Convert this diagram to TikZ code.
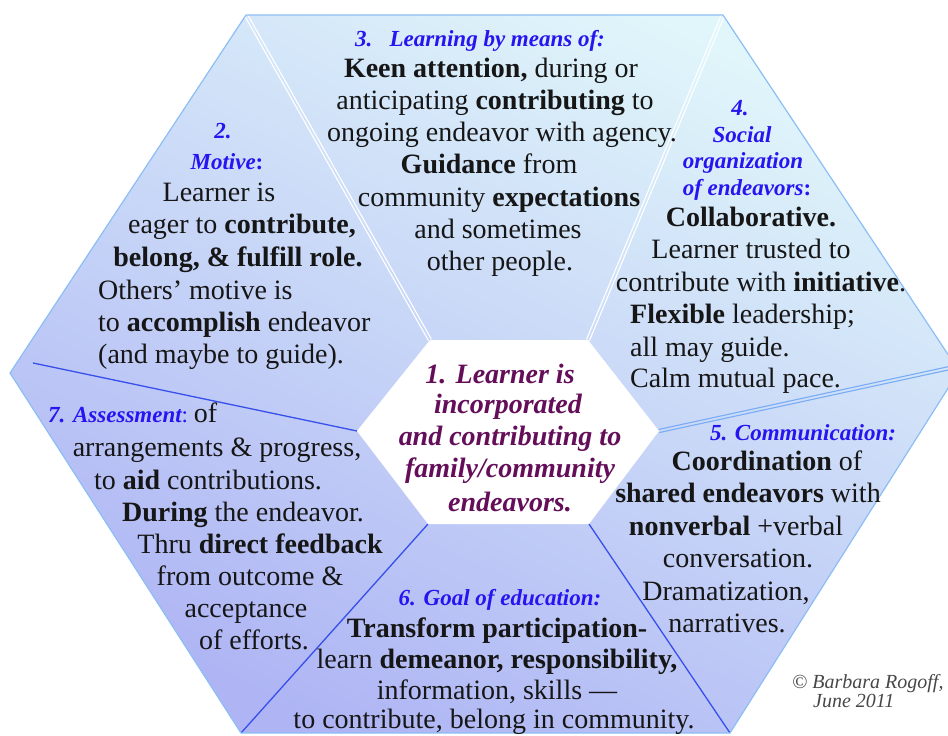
\documentclass[tikz,border=0pt]{standalone}
\usepackage{fontspec}
\setmainfont{Liberation Serif}
\usetikzlibrary{calc}

\definecolor{ink}{RGB}{22,22,22}
\definecolor{headblue}{RGB}{40,20,240}
\definecolor{hubpurple}{RGB}{100,14,90}
\definecolor{rimblue}{RGB}{140,190,245}
\definecolor{seamblue}{RGB}{120,172,245}
\definecolor{spokeblue}{RGB}{55,80,235}
\definecolor{topfill}{RGB}{224,246,250}
\definecolor{botfill}{RGB}{174,180,244}

\tikzset{
  body/.style={inner sep=0pt, anchor=base, font=\fontsize{28}{32}\selectfont, text=ink},
  lbody/.style={body, anchor=base west},
  head/.style={inner sep=0pt, anchor=base, font=\fontsize{23}{27}\selectfont\bfseries\itshape, text=headblue},
  lhead/.style={head, anchor=base west},
  hub/.style={inner sep=0pt, anchor=base, font=\fontsize{28}{32}\selectfont\bfseries\itshape, text=hubpurple},
  credit/.style={inner sep=0pt, anchor=base west, font=\fontsize{20}{22}\selectfont\itshape, text=black!72},
  rim/.style={draw=rimblue, line width=1.2pt, line join=round},
  spoke/.style={draw=spokeblue, line width=1.3pt},
}

\begin{document}
\begin{tikzpicture}[x=1pt,y=-1pt]
\useasboundingbox (0,0) rectangle (948,736);

% outer hexagon corners
\coordinate (otl) at (246,15);
\coordinate (otr) at (723,15);
\coordinate (or)  at (959,371);
\coordinate (obr) at (730,733);
\coordinate (obl) at (241,733);
\coordinate (ol)  at (10,373);
% inner hexagon corners
\coordinate (itl) at (430,340);
\coordinate (itr) at (588,340);
\coordinate (ir)  at (659,431);
\coordinate (ibr) at (589,524);
\coordinate (ibl) at (428,524);
\coordinate (il)  at (357,431);
% free end of the left divider
\coordinate (lend) at (33,363);
% outer end of the right divider
\coordinate (rend) at (959,366);

% shaded body
\shade[top color=topfill, bottom color=botfill, shading angle=-25]
  (otl) -- (otr) -- (or) -- (obr) -- (obl) -- (ol) -- cycle;

% doubled dividers
\foreach \a/\b/\c in {itl/otl/white, itr/otr/white, ir/rend/seamblue}{
  \draw[\c, line width=1.1pt] ($(\a)!1.6pt!90:(\b)$) -- ($(\b)!1.6pt!-90:(\a)$);
  \draw[\c, line width=1.1pt] ($(\a)!1.6pt!-90:(\b)$) -- ($(\b)!1.6pt!90:(\a)$);
}
% single dividers
\draw[spoke] (ibr) -- (obr);
\draw[spoke] (ibl) -- (obl);
\draw[spoke] (il) -- (lend);

% hub
\fill[white] (itl) -- (itr) -- (ir) -- (ibr) -- (ibl) -- (il) -- cycle;

% rim
\draw[rim] (otl) -- (otr) -- (or) -- (obr) -- (obl) -- (ol) -- cycle;

% 1. hub text
\node[hub] (h1) at (500,383) {1. Learner is};
\node[hub] (h2) at (508,413) {incorporated};
\node[hub] (h3) at (510,445) {and contributing to};
\node[hub] (h4) at (510,477) {family/community};
\node[hub] (h5) at (510,511) {endeavors.};

% 2. motive
\node[head] (m0) at (223,138) {2.};
\node[head] (m1) at (227,169) {Motive{\upshape :}};
\node[body] (m2) at (219,201) {Learner is};
\node[body] (m3) at (242,233) {eager to \textbf{contribute,}};
\node[body] (m4) at (238,266) {\textbf{belong, \& fulfill role.}};
\node[lbody] (m5) at (98,299) {Others’ motive is};
\node[lbody] (m6) at (98,331) {to \textbf{accomplish} endeavor};
\node[lbody] (m7) at (98,363) {(and maybe to guide).};

% 3. learning
\node[head] (l0) at (480,46) {3.\hspace{0.75em}Learning by means of:};
\node[body] (l1) at (491,77) {\textbf{Keen attention,} during or};
\node[body] (l2) at (495,109) {anticipating \textbf{contributing} to};
\node[body] (l3) at (502,141) {ongoing endeavor with agency.};
\node[body] (l4) at (489,173) {\textbf{Guidance} from};
\node[body] (l5) at (499,206) {community \textbf{expectations}};
\node[body] (l6) at (498,238) {and sometimes};
\node[body] (l7) at (500,270) {other people.};

% 4. social organization
\node[head] (o0) at (740,115) {4.};
\node[head] (o1) at (742,142) {Social};
\node[head] (o2) at (743,168) {organization};
\node[head] (o3) at (747,195) {of endeavors{\upshape :}};
\node[body] (o4) at (751,226) {\textbf{Collaborative.}};
\node[body] (o5) at (751,258) {Learner trusted to};
\node[body] (o6) at (761,291) {contribute with \textbf{initiative}.};
\node[lbody] (o7) at (630,323) {\textbf{Flexible} leadership;};
\node[lbody] (o8) at (630,356) {all may guide.};
\node[lbody] (o9) at (630,387) {Calm mutual pace.};

% 5. communication
\node[head] (c0) at (803,440) {5. Communication:};
\node[body] (c1) at (767,470) {\textbf{Coordination} of};
\node[body] (c2) at (748,502) {\textbf{shared endeavors} with};
\node[body] (c3) at (736,535) {\textbf{nonverbal} +verbal};
\node[body] (c4) at (738,567) {conversation.};
\node[body] (c5) at (726,600) {Dramatization,};
\node[body] (c6) at (727,632) {narratives.};

% 6. goal
\node[head] (g0) at (500,605) {6. Goal of education:};
\node[body] (g1) at (497,637) {\textbf{Transform participation-}};
\node[body] (g2) at (497,668) {learn \textbf{demeanor, responsibility,}};
\node[body] (g3) at (497,699) {information, skills —};
\node[body] (g4) at (494,728) {to contribute, belong in community.};

% 7. assessment
\node[lhead] (a0) at (48,422) {7. Assessment{\mdseries\upshape :}\hspace{0.25em}{\mdseries\upshape\fontsize{28}{32}\selectfont\color{ink}of}};
\node[body] (a1) at (217,456) {arrangements \& progress,};
\node[body] (a2) at (208,489) {to \textbf{aid} contributions.};
\node[body] (a3) at (243,521) {\textbf{During} the endeavor.};
\node[body] (a4) at (260,553) {Thru \textbf{direct feedback}};
\node[body] (a5) at (250,585) {from outcome \&};
\node[body] (a6) at (246,617) {acceptance};
\node[body] (a7) at (254,649) {of efforts.};

% credit line
\node[credit] (cr1) at (792,688) {© Barbara Rogoff,};
\node[credit] (cr2) at (813,707) {June 2011};
\end{tikzpicture}
\end{document}
